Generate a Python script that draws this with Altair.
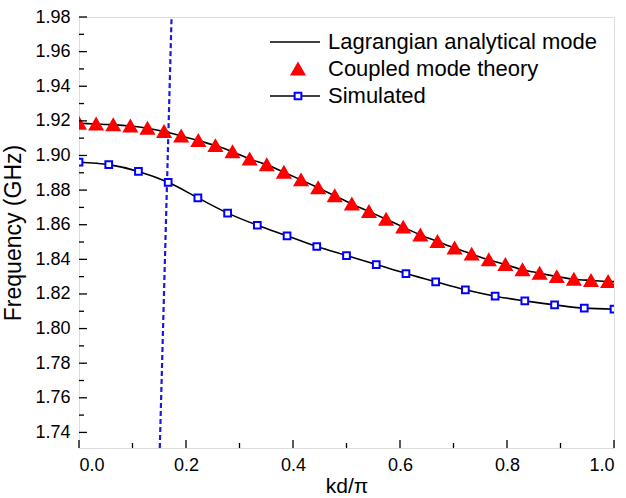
import altair as alt
import pandas as pd

# ---- data ----
coupled_x = [0.000, 0.032, 0.064, 0.096, 0.128, 0.159, 0.191, 0.223, 0.255, 0.287,
             0.319, 0.351, 0.383, 0.415, 0.447, 0.478, 0.510, 0.542, 0.574, 0.606,
             0.638, 0.670, 0.702, 0.734, 0.766, 0.797, 0.829, 0.861, 0.893, 0.925,
             0.957, 0.989]
coupled_y = [1.9186, 1.9182, 1.9178, 1.9170, 1.9157, 1.9138, 1.9113, 1.9086, 1.9057, 1.9022,
             1.8980, 1.8946, 1.8903, 1.8859, 1.8813, 1.8767, 1.8720, 1.8676, 1.8632, 1.8586,
             1.8541, 1.8503, 1.8465, 1.8430, 1.8397, 1.8370, 1.8340, 1.8320, 1.8300, 1.8285,
             1.8278, 1.8272]

lagr_x = [0.000, 0.032, 0.064, 0.096, 0.128, 0.159, 0.191, 0.223, 0.255, 0.287,
          0.319, 0.351, 0.383, 0.415, 0.447, 0.478, 0.510, 0.542, 0.574, 0.606,
          0.638, 0.670, 0.702, 0.734, 0.766, 0.797, 0.829, 0.861, 0.893, 0.925,
          0.957, 0.989, 1.000]
lagr_y = [1.9186, 1.9182, 1.9178, 1.9170, 1.9157, 1.9138, 1.9113, 1.9086, 1.9057, 1.9022,
          1.8980, 1.8946, 1.8903, 1.8859, 1.8813, 1.8767, 1.8720, 1.8676, 1.8632, 1.8586,
          1.8541, 1.8503, 1.8465, 1.8430, 1.8397, 1.8370, 1.8340, 1.8320, 1.8300, 1.8285,
          1.8278, 1.8272, 1.8271]

sim_x = [0.0000, 0.0556, 0.1111, 0.1667, 0.2222, 0.2778, 0.3333, 0.3889, 0.4444, 0.5000,
         0.5556, 0.6111, 0.6667, 0.7222, 0.7778, 0.8333, 0.8889, 0.9444, 1.0000]
sim_y = [1.8961, 1.8947, 1.8908, 1.8845, 1.8755, 1.8667, 1.8597, 1.8536, 1.8474, 1.8422,
         1.8370, 1.8318, 1.8270, 1.8224, 1.8187, 1.8160, 1.8137, 1.8118, 1.8112]

dash_x = [0.151, 0.173]
dash_y = [1.731, 1.980]

y_major = [1.74, 1.76, 1.78, 1.80, 1.82, 1.84, 1.86, 1.88, 1.90, 1.92, 1.94, 1.96, 1.98]
y_minor = [1.75, 1.77, 1.79, 1.81, 1.83, 1.85, 1.87, 1.89, 1.91, 1.93, 1.95, 1.97]
x_major = [0.0, 0.2, 0.4, 0.6, 0.8, 1.0]
x_minor = [0.1, 0.3, 0.5, 0.7, 0.9]

names = ["Lagrangian analytical mode", "Coupled mode theory", "Simulated"]
keys = ["L", "C", "S"]

# ---- chart ----
W, H = 535, 431
FONT = "Liberation Sans"

xs = alt.Scale(domain=[0, 1], nice=False, zero=False)
ys = alt.Scale(domain=[1.731, 1.98], nice=False, zero=False)

x_axis = alt.Axis(title="kd/π", values=x_major, format=".1f", ticks=False, tickSize=0,
                  domain=False, grid=False, labelPadding=8, labelFontSize=18,
                  titleFontSize=21, titlePadding=1, labelFont=FONT, titleFont=FONT,
                  labelColor="black", titleColor="black", titleFontWeight="normal")
y_axis = alt.Axis(title="Frequency (GHz)", values=y_major, format=".2f", ticks=False, tickSize=0,
                  domain=False, grid=False, labelPadding=9, labelFontSize=18,
                  titleFontSize=23, titlePadding=9, labelFont=FONT, titleFont=FONT,
                  labelColor="black", titleColor="black", titleFontWeight="normal")

lines_df = pd.DataFrame({
    "x": lagr_x + sim_x,
    "y": lagr_y + sim_y,
    "series": [names[0]] * len(lagr_x) + [names[2]] * len(sim_x),
})
pts_df = pd.DataFrame({
    "x": coupled_x + sim_x,
    "y": coupled_y + sim_y,
    "key": ["C"] * len(coupled_x) + ["S"] * len(sim_x),
})
dash_df = pd.DataFrame({"x": dash_x, "y": dash_y})

lines = alt.Chart(lines_df).mark_line(strokeWidth=1.6, interpolate="monotone", clip=True).encode(
    x=alt.X("x:Q", scale=xs, axis=x_axis),
    y=alt.Y("y:Q", scale=ys, axis=y_axis),
    color=alt.Color("series:N", scale=alt.Scale(domain=names, range=["black", "transparent", "black"]),
                    legend=alt.Legend(title=None, orient="none", legendX=190, legendY=14,
                                      symbolType="stroke", symbolSize=2500, symbolStrokeWidth=1.6,
                                      labelFontSize=22, labelFont=FONT, labelColor="black",
                                      labelLimit=400, labelOffset=7, rowPadding=5,
                                      clipHeight=22, padding=0)),
)

dash = alt.Chart(dash_df).mark_line(color="#1a1ad8", strokeDash=[5, 3], strokeWidth=2.2, clip=True).encode(
    x=alt.X("x:Q", scale=xs, axis=x_axis),
    y=alt.Y("y:Q", scale=ys, axis=y_axis),
)

leg2 = alt.Legend(title=None, orient="none", legendX=208, legendY=14, labelFontSize=22,
                  labelFont=FONT, labelExpr="''", labelOffset=7, rowPadding=5, clipHeight=22,
                  padding=0, symbolStrokeWidth=2)
points = alt.Chart(pts_df).mark_point(filled=True, opacity=1, strokeWidth=2, clip=True).encode(
    x=alt.X("x:Q", scale=xs, axis=x_axis),
    y=alt.Y("y:Q", scale=ys, axis=y_axis),
    shape=alt.Shape("key:N", scale=alt.Scale(domain=keys, range=["circle", "triangle-up", "square"]), legend=leg2),
    fill=alt.Fill("key:N", scale=alt.Scale(domain=keys, range=["transparent", "#ff0000", "white"]), legend=leg2),
    stroke=alt.Stroke("key:N", scale=alt.Scale(domain=keys, range=["transparent", "#ff0000", "#0000ff"]), legend=leg2),
    size=alt.Size("key:N", scale=alt.Scale(type="ordinal", domain=keys, range=[1, 160, 45]), legend=leg2),
)

ytick_major = alt.Chart(pd.DataFrame({"v": y_major})).mark_rule(color="black", strokeWidth=1.3).encode(
    y=alt.Y("v:Q", scale=ys, axis=y_axis), x=alt.value(0), x2=alt.value(8))
ytick_minor = alt.Chart(pd.DataFrame({"v": y_minor})).mark_rule(color="black", strokeWidth=1.3).encode(
    y=alt.Y("v:Q", scale=ys, axis=y_axis), x=alt.value(0), x2=alt.value(5))
xtick_major = alt.Chart(pd.DataFrame({"v": x_major})).mark_rule(color="black", strokeWidth=1.3).encode(
    x=alt.X("v:Q", scale=xs, axis=x_axis), y=alt.value(H), y2=alt.value(H - 8))
xtick_minor = alt.Chart(pd.DataFrame({"v": x_minor})).mark_rule(color="black", strokeWidth=1.3).encode(
    x=alt.X("v:Q", scale=xs, axis=x_axis), y=alt.value(H), y2=alt.value(H - 5))

chart = alt.layer(
    lines, dash, points, ytick_major, ytick_minor, xtick_major, xtick_minor
).properties(
    width=W, height=H,
    autosize=alt.AutoSizeParams(type="none"),
    padding={"left": 79, "top": 17, "right": 12, "bottom": 50},
    background="white",
).configure_view(
    stroke="black", strokeWidth=1.6
).configure(font=FONT)

chart.save("out.html", embed_options={"renderer": "svg", "actions": False})
